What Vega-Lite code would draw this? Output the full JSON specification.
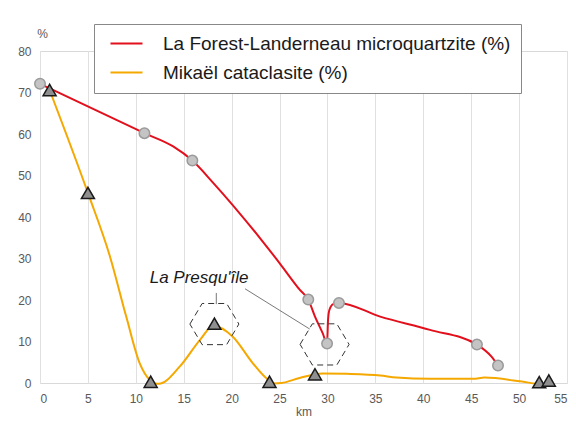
{
  "$schema": "https://vega.github.io/schema/vega-lite/v6.json",
  "width": 527,
  "height": 332,
  "autosize": {"type": "none"},
  "padding": {"left": 40, "top": 51, "right": 9, "bottom": 39},
  "background": "white",
  "config": {
    "font": "Liberation Sans",
    "view": {"stroke": "#d9d9d9"},
    "axis": {"labelFont": "Liberation Sans", "titleFont": "Liberation Sans", "labelColor": "#595959", "titleColor": "#595959", "labelFontSize": 12, "titleFontSize": 12, "titleFontWeight": "normal", "ticks": false, "domain": false}
  },
  "datasets": {
    "lines": [
      {"series": "La Forest-Landerneau microquartzite (%)", "km": 0.0, "pct": 72.1},
      {"series": "La Forest-Landerneau microquartzite (%)", "km": 1.0, "pct": 71.0},
      {"series": "La Forest-Landerneau microquartzite (%)", "km": 10.9, "pct": 60.2},
      {"series": "La Forest-Landerneau microquartzite (%)", "km": 13.9, "pct": 57.0},
      {"series": "La Forest-Landerneau microquartzite (%)", "km": 15.9, "pct": 53.6},
      {"series": "La Forest-Landerneau microquartzite (%)", "km": 18.05, "pct": 48.3},
      {"series": "La Forest-Landerneau microquartzite (%)", "km": 23.1, "pct": 34.5},
      {"series": "La Forest-Landerneau microquartzite (%)", "km": 25.0, "pct": 28.9},
      {"series": "La Forest-Landerneau microquartzite (%)", "km": 27.1, "pct": 22.5},
      {"series": "La Forest-Landerneau microquartzite (%)", "km": 28.0, "pct": 20.1},
      {"series": "La Forest-Landerneau microquartzite (%)", "km": 28.7, "pct": 16.0},
      {"series": "La Forest-Landerneau microquartzite (%)", "km": 29.5, "pct": 12.0},
      {"series": "La Forest-Landerneau microquartzite (%)", "km": 29.96, "pct": 9.5},
      {"series": "La Forest-Landerneau microquartzite (%)", "km": 30.06, "pct": 15.2},
      {"series": "La Forest-Landerneau microquartzite (%)", "km": 30.2, "pct": 17.6},
      {"series": "La Forest-Landerneau microquartzite (%)", "km": 30.6, "pct": 19.0},
      {"series": "La Forest-Landerneau microquartzite (%)", "km": 31.2, "pct": 19.3},
      {"series": "La Forest-Landerneau microquartzite (%)", "km": 35.5, "pct": 16.0},
      {"series": "La Forest-Landerneau microquartzite (%)", "km": 40.7, "pct": 12.8},
      {"series": "La Forest-Landerneau microquartzite (%)", "km": 45.6, "pct": 9.25},
      {"series": "La Forest-Landerneau microquartzite (%)", "km": 47.1, "pct": 6.4},
      {"series": "La Forest-Landerneau microquartzite (%)", "km": 47.8, "pct": 4.2},
      {"series": "Mikaël cataclasite (%)", "km": 1.0, "pct": 70.6},
      {"series": "Mikaël cataclasite (%)", "km": 5.0, "pct": 45.8},
      {"series": "Mikaël cataclasite (%)", "km": 7.3, "pct": 30.5},
      {"series": "Mikaël cataclasite (%)", "km": 9.0, "pct": 16.0},
      {"series": "Mikaël cataclasite (%)", "km": 10.4, "pct": 4.8},
      {"series": "Mikaël cataclasite (%)", "km": 11.45, "pct": 0.8},
      {"series": "Mikaël cataclasite (%)", "km": 12.4, "pct": -0.2},
      {"series": "Mikaël cataclasite (%)", "km": 14.6, "pct": 4.0},
      {"series": "Mikaël cataclasite (%)", "km": 16.7, "pct": 10.4},
      {"series": "Mikaël cataclasite (%)", "km": 18.1, "pct": 13.8},
      {"series": "Mikaël cataclasite (%)", "km": 20.1, "pct": 11.2},
      {"series": "Mikaël cataclasite (%)", "km": 22.2, "pct": 4.8},
      {"series": "Mikaël cataclasite (%)", "km": 23.6, "pct": 1.2},
      {"series": "Mikaël cataclasite (%)", "km": 24.5, "pct": -0.1},
      {"series": "Mikaël cataclasite (%)", "km": 25.2, "pct": 0.0},
      {"series": "Mikaël cataclasite (%)", "km": 27.1, "pct": 1.2},
      {"series": "Mikaël cataclasite (%)", "km": 29.5, "pct": 2.3},
      {"series": "Mikaël cataclasite (%)", "km": 32.0, "pct": 2.2},
      {"series": "Mikaël cataclasite (%)", "km": 35.5, "pct": 1.8},
      {"series": "Mikaël cataclasite (%)", "km": 37.2, "pct": 1.3},
      {"series": "Mikaël cataclasite (%)", "km": 40.7, "pct": 1.0},
      {"series": "Mikaël cataclasite (%)", "km": 45.2, "pct": 1.0},
      {"series": "Mikaël cataclasite (%)", "km": 46.4, "pct": 1.3},
      {"series": "Mikaël cataclasite (%)", "km": 50.1, "pct": 0.4},
      {"series": "Mikaël cataclasite (%)", "km": 51.8, "pct": -0.2},
      {"series": "Mikaël cataclasite (%)", "km": 53.5, "pct": -0.7}
    ],
    "circles": [
      {"km": 0.0, "pct": 72.1},
      {"km": 10.9, "pct": 60.2},
      {"km": 15.9, "pct": 53.6},
      {"km": 28.0, "pct": 20.1},
      {"km": 29.96, "pct": 9.5},
      {"km": 31.2, "pct": 19.3},
      {"km": 45.6, "pct": 9.25},
      {"km": 47.8, "pct": 4.2}
    ],
    "triangles": [
      {"km": 1.0, "pct": 70.6},
      {"km": 5.0, "pct": 45.8},
      {"km": 11.55, "pct": 0.3},
      {"km": 18.2, "pct": 14.3},
      {"km": 23.95, "pct": 0.3},
      {"km": 28.7, "pct": 2.1},
      {"km": 52.1, "pct": 0.2},
      {"km": 53.1, "pct": 0.6}
    ],
    "hexes": [
      {"km": 18.2, "pct": 14.2},
      {"km": 29.7, "pct": 9.3}
    ],
    "leaders": [
      {"km": 18.4, "pct": 21.7, "km2": 18.4, "pct2": 19.0},
      {"km": 21.4, "pct": 22.7, "km2": 28.15, "pct2": 13.0}
    ],
    "labels": [
      {"km": 16.6, "pct": 24.2, "text": "La Presqu'île"}
    ]
  },
  "layer": [
    {
      "data": {"name": "lines"},
      "mark": {"type": "line", "interpolate": "monotone", "strokeWidth": 2},
      "encoding": {
        "x": {"field": "km", "type": "quantitative", "scale": {"domain": [0, 55], "nice": false}, "axis": {"values": [0, 5, 10, 15, 20, 25, 30, 35, 40, 45, 50, 55], "grid": true, "gridColor": "#e0e0e0", "labelPadding": 10, "title": "km", "titlePadding": 2}},
        "y": {"field": "pct", "type": "quantitative", "scale": {"domain": [0, 80], "nice": false}, "axis": {"values": [0, 10, 20, 30, 40, 50, 60, 70, 80], "grid": false, "labelPadding": 9, "title": "%", "titleAngle": 0, "titleX": 2, "titleY": -14, "titleAlign": "center", "titleBaseline": "alphabetic"}},
        "color": {
          "field": "series", "type": "nominal",
          "scale": {"domain": ["La Forest-Landerneau microquartzite (%)", "Mikaël cataclasite (%)"], "range": ["#e2101c", "#f5a800"]},
          "legend": {"title": null, "orient": "none", "legendX": 54, "legendY": -27, "direction": "vertical", "symbolType": "M -2 0 L 2 0", "symbolSize": 256, "symbolStrokeWidth": 2, "labelFontSize": 19, "labelColor": "#1a1a1a", "labelFont": "Liberation Sans", "labelOffset": 27, "padding": 10, "rowPadding": 9, "strokeColor": "#888888", "fillColor": "white", "symbolOffset": 13, "labelLimit": 500}
        }
      }
    },
    {
      "data": {"name": "circles"},
      "mark": {"type": "point", "shape": "circle", "filled": true, "size": 110, "fill": "#c4c4c4", "stroke": "#9a9a9a", "strokeWidth": 1.5, "opacity": 1},
      "encoding": {
        "x": {"field": "km", "type": "quantitative"},
        "y": {"field": "pct", "type": "quantitative"}
      }
    },
    {
      "data": {"name": "triangles"},
      "mark": {"type": "point", "shape": "triangle-up", "filled": true, "size": 170, "fill": "#8f8f8f", "stroke": "#1a1a1a", "strokeWidth": 1.5, "opacity": 1},
      "encoding": {
        "x": {"field": "km", "type": "quantitative"},
        "y": {"field": "pct", "type": "quantitative"}
      }
    },
    {
      "data": {"name": "hexes"},
      "mark": {"type": "point", "shape": "M -1 0 L -0.5 -0.84 L 0.5 -0.84 L 1 0 L 0.5 0.84 L -0.5 0.84 Z", "filled": false, "size": 2401, "stroke": "#333333", "strokeWidth": 1, "strokeDash": [6, 4], "opacity": 1},
      "encoding": {
        "x": {"field": "km", "type": "quantitative"},
        "y": {"field": "pct", "type": "quantitative"}
      }
    },
    {
      "data": {"name": "leaders"},
      "mark": {"type": "rule", "color": "#555555", "strokeWidth": 0.8},
      "encoding": {
        "x": {"field": "km", "type": "quantitative"},
        "y": {"field": "pct", "type": "quantitative"},
        "x2": {"field": "km2"},
        "y2": {"field": "pct2"}
      }
    },
    {
      "data": {"name": "labels"},
      "mark": {"type": "text", "font": "Liberation Sans", "fontStyle": "italic", "fontSize": 17, "color": "#1a1a1a", "align": "center", "baseline": "alphabetic"},
      "encoding": {
        "x": {"field": "km", "type": "quantitative"},
        "y": {"field": "pct", "type": "quantitative"},
        "text": {"field": "text"}
      }
    }
  ]
}
